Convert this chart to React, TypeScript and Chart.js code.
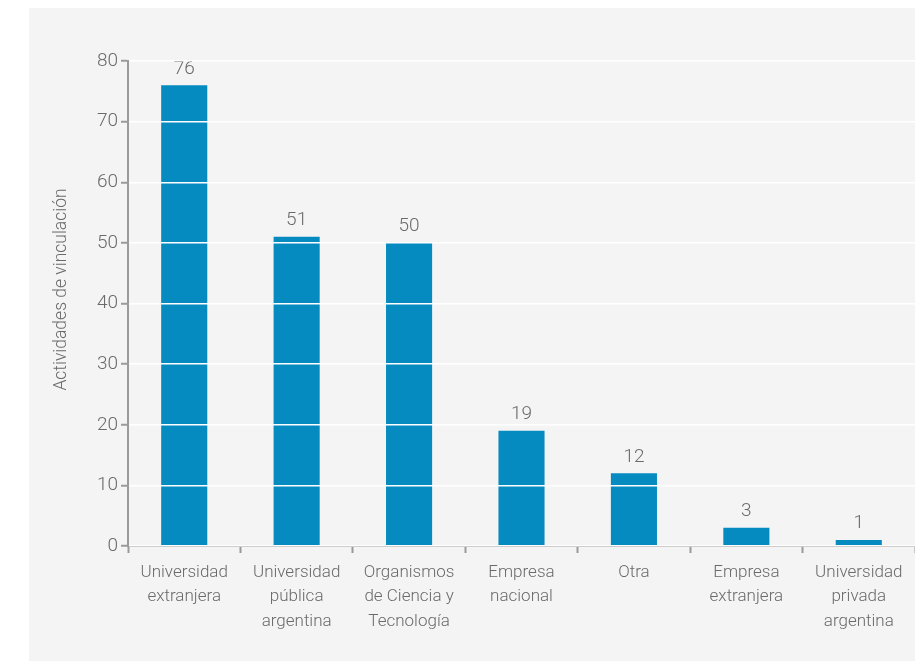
import React, { useEffect, useRef } from "react";
import { Chart, registerables } from "chart.js";

Chart.register(...registerables);

const categories: string[][] = [
  ["Universidad", "extranjera"],
  ["Universidad", "pública", "argentina"],
  ["Organismos", "de Ciencia y", "Tecnología"],
  ["Empresa", "nacional"],
  ["Otra"],
  ["Empresa", "extranjera"],
  ["Universidad", "privada", "argentina"],
];
const values: number[] = [76, 51, 50, 19, 12, 3, 1];
const yTicks: number[] = [0, 10, 20, 30, 40, 50, 60, 70, 80];
const yTitle = "Actividades de vinculación";

const FONT = "Roboto, sans-serif";
const WEIGHT = 300;
const BAR = "#068bc1";
const TEXT = "#6a6a6a";
const AXIS = "#9a9a9a";

const valueLabels = {
  id: "valueLabels",
  afterDatasetsDraw(chart: any) {
    const ctx = chart.ctx;
    const meta = chart.getDatasetMeta(0);
    ctx.save();
    ctx.font = `${WEIGHT} 19px ${FONT}`;
    ctx.fillStyle = TEXT;
    ctx.textAlign = "center";
    ctx.textBaseline = "bottom";
    meta.data.forEach((el: any, i: number) => {
      ctx.fillText(String(values[i]), el.x, el.y - 7);
    });
    ctx.restore();
  },
};

const yTitlePlugin = {
  id: "yTitlePlugin",
  afterDraw(chart: any) {
    const ctx = chart.ctx;
    const area = chart.chartArea;
    ctx.save();
    ctx.font = `${WEIGHT} 17.5px ${FONT}`;
    ctx.fillStyle = TEXT;
    ctx.textAlign = "center";
    ctx.textBaseline = "middle";
    ctx.translate(33, (area.top + area.bottom) / 2 - 14);
    ctx.rotate(-Math.PI / 2);
    ctx.fillText(yTitle, 0, 0);
    ctx.restore();
  },
};

export default function App() {
  const ref = useRef<HTMLCanvasElement | null>(null);
  useEffect(() => {
    if (!ref.current) return;
    const chart = new Chart(ref.current, {
      type: "bar",
      data: {
        labels: categories,
        datasets: [
          {
            data: values,
            backgroundColor: BAR,
            barPercentage: 0.82,
            categoryPercentage: 0.5,
          },
        ],
      },
      options: {
        responsive: false,
        animation: false,
        maintainAspectRatio: false,
        layout: { padding: { top: 53, left: 0, right: 0, bottom: 0 } },
        plugins: { legend: { display: false }, tooltip: { enabled: false } },
        scales: {
          x: {
            offset: true,
            grid: {
              offset: true,
              drawOnChartArea: false,
              drawTicks: true,
              tickLength: 7,
              tickColor: AXIS,
              tickWidth: 2,
            },
            border: { color: AXIS, width: 2 },
            ticks: {
              color: TEXT,
              font: { family: FONT, size: 17, weight: WEIGHT, lineHeight: 1.42 },
              padding: 8,
              maxRotation: 0,
              autoSkip: false,
            },
            afterFit: (s: any) => {
              s.height = 115;
            },
          },
          y: {
            min: 0,
            max: 80,
            afterBuildTicks: (s: any) => {
              s.ticks = yTicks.map((v) => ({ value: v }));
            },
            grid: {
              color: "#ffffff",
              lineWidth: 1.5,
              z: 1,
              drawTicks: true,
              tickLength: 7,
              tickColor: AXIS,
              tickWidth: 2,
            },
            border: { color: AXIS, width: 2, z: 2 },
            ticks: {
              color: TEXT,
              font: { family: FONT, size: 19, weight: WEIGHT },
              padding: 3,
            },
            title: { display: false },
            afterFit: (s: any) => {
              s.width = 99;
            },
          },
        },
      },
      plugins: [valueLabels, yTitlePlugin],
    });
    return () => chart.destroy();
  }, []);
  return (
    <div style={{ position: "fixed", left: 0, top: 0, width: 915, height: 661, background: "#ffffff" }}>
      <canvas
        ref={ref}
        width={886}
        height={653}
        style={{ position: "absolute", left: 29, top: 8, width: 886, height: 653, background: "#f4f4f4" }}
      />
    </div>
  );
}
